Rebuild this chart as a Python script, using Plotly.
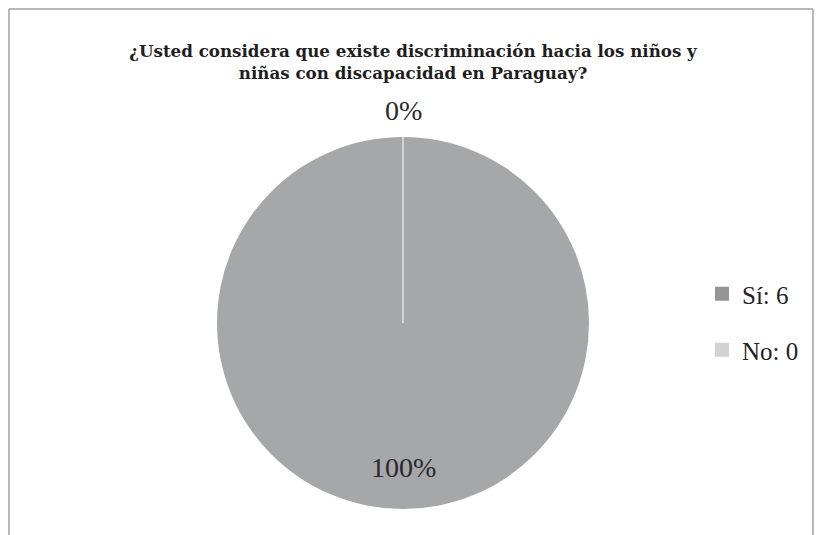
import plotly.graph_objects as go

labels = ["Sí", "No"]
values = [6, 0]
colors = ["#a6a7a9", "#d2d2d4"]
legend_colors = ["#949597", "#d2d2d4"]
title_text = "¿Usted considera que existe discriminación hacia los niños y<br>niñas con discapacidad en Paraguay?"

total = sum(values)
pcts = [round(100 * v / total) for v in values]
legend_labels = [f"{l}: {v}" for l, v in zip(labels, values)]

W, H = 823, 535
OFF = 8  # page body margin


def px(X):
    return (X - OFF) / W


def py(Y):
    return (H - (Y - OFF)) / H


cx, cy, r = 403, 323, 186
dom = dict(x=[px(cx - r), px(cx + r)], y=[py(cy + r), py(cy - r)])

fig = go.Figure()
fig.add_trace(go.Pie(
    labels=legend_labels,
    values=values,
    marker=dict(colors=colors, line=dict(color="white", width=0)),
    textinfo="none",
    sort=False,
    direction="clockwise",
    rotation=0,
    hoverinfo="label+percent",
    domain=dom,
    showlegend=False,
))

# legend-only entries, one per category
legend_names = ["legend", "legend2"]
for i in range(len(labels)):
    fig.add_trace(go.Scatter(
        x=[None], y=[None], mode="markers", name=legend_labels[i],
        marker=dict(symbol="square", size=14, color=legend_colors[i]),
        legend=legend_names[i], showlegend=True, hoverinfo="skip",
    ))

label_font = dict(family="Liberation Serif", size=28, color="#2a2a2a")
fig.add_annotation(x=px(cx), y=py(111), xref="paper", yref="paper", yanchor="middle",
                   xanchor="center", text=f"{pcts[1]}%", showarrow=False, font=label_font)
fig.add_annotation(x=px(cx), y=py(467), xref="paper", yref="paper", yanchor="middle",
                   xanchor="center", text=f"{pcts[0]}%", showarrow=False, font=label_font)

frame = dict(color="#a0a0a0", width=1.5)
shapes = [
    dict(type="line", xref="paper", yref="paper", x0=px(9), x1=px(9), y0=0, y1=py(9), line=frame),
    dict(type="line", xref="paper", yref="paper", x0=px(9), x1=px(813), y0=py(9), y1=py(9), line=frame),
    dict(type="line", xref="paper", yref="paper", x0=px(813), x1=px(813), y0=0, y1=py(9), line=frame),
    dict(type="line", xref="paper", yref="paper", x0=px(cx), x1=px(cx), y0=py(cy), y1=py(cy - r),
         line=dict(color="white", width=1)),
]

leg_font = dict(family="Liberation Serif", size=25, color="#222222")
fig.update_layout(
    width=W, height=H,
    margin=dict(l=0, r=0, t=0, b=0),
    paper_bgcolor="white",
    plot_bgcolor="white",
    showlegend=True,
    xaxis=dict(visible=False),
    yaxis=dict(visible=False),
    title=dict(text=title_text, x=px(413), xanchor="center", y=py(57), yanchor="middle",
               font=dict(family="DejaVu Serif", size=16.7, color="#1e1e1e", weight="bold")),
    legend=dict(x=px(702), y=py(294), xanchor="left", yanchor="middle", font=leg_font,
                itemwidth=30, bgcolor="rgba(0,0,0,0)"),
    legend2=dict(x=px(702), y=py(350), xanchor="left", yanchor="middle", font=leg_font,
                 itemwidth=30, bgcolor="rgba(0,0,0,0)"),
    shapes=shapes,
)

fig.write_html("out.html")
